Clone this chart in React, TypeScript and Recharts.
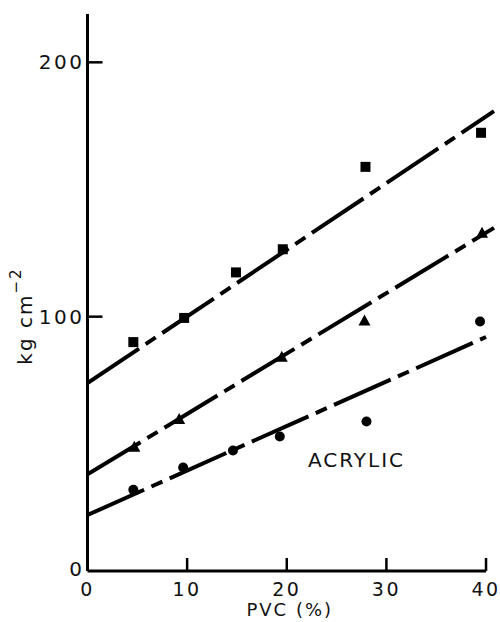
import React from 'react';
import { ComposedChart, XAxis, YAxis, Scatter, Line, ReferenceLine, ReferenceDot } from 'recharts';

// Data
const squarePvc = [4.6, 9.7, 14.9, 19.6, 27.9, 39.5];
const squareVal = [90, 99.5, 117.4, 126.5, 158.9, 172.3];
const trianglePvc = [4.7, 9.2, 19.5, 27.8, 39.6];
const triangleVal = [48.9, 59.8, 84.2, 98.5, 133];
const circlePvc = [4.6, 9.6, 14.6, 19.3, 28, 39.4];
const circleVal = [31.9, 40.7, 47.4, 52.9, 58.8, 98.1];

const squareFitX = [0, 40.8];
const squareFitY = [73.9, 180.8];
const triangleFitX = [0, 40.8];
const triangleFitY = [38, 134.9];
const circleFitX = [0, 40];
const circleFitY = [22, 92];

const xTicks = [0, 10, 20, 30, 40];
const yTicks = [0, 100, 200];

const zip = (xs: number[], ys: number[]) => xs.map((x, i) => ({ x, y: ys[i] }));
const squares = zip(squarePvc, squareVal);
const triangles = zip(trianglePvc, triangleVal);
const circles = zip(circlePvc, circleVal);
const squareFit = zip(squareFitX, squareFitY);
const triangleFit = zip(triangleFitX, triangleFitY);
const circleFit = zip(circleFitX, circleFitY);

const FONT = '"DejaVu Sans", sans-serif';
const DASH = '62 8 12 8';

const XTick = (props: any) => {
  const { x, y, payload } = props;
  const v = payload.value;
  return (
    <g>
      {v !== 0 && <line x1={x} y1={y} x2={x} y2={y - 13} stroke="#000" strokeWidth={2.5} />}
      <text x={x} y={y + 18} textAnchor="middle" dominantBaseline="central" fontFamily={FONT} fontSize={19} letterSpacing={2.5} fill="#111">
        {v}
      </text>
    </g>
  );
};

const YTick = (props: any) => {
  const { x, y, payload } = props;
  const v = payload.value;
  return (
    <g>
      {v !== 0 && <line x1={x} y1={y} x2={x + 15} y2={y} stroke="#000" strokeWidth={2.5} />}
      <text x={x - 3} y={v === 0 ? y - 2 : y} textAnchor="end" dominantBaseline="central" fontFamily={FONT} fontSize={20} letterSpacing={2.5} fill="#111">
        {v}
      </text>
    </g>
  );
};

const Square = (p: any) => <rect x={p.cx - 5} y={p.cy - 5} width={10} height={10} fill="#000" />;
const Triangle = (p: any) => (
  <polygon points={`${p.cx},${p.cy - 6} ${p.cx - 6},${p.cy + 5} ${p.cx + 6},${p.cy + 5}`} fill="#000" />
);
const Dot = (p: any) => <circle cx={p.cx} cy={p.cy} r={5} fill="#000" />;

const YLabel = (props: any) => {
  const vb = props.viewBox || { x: 0, y: 0, width: 0, height: 0 };
  const cx = vb.x + 25;
  const cy = 316;
  return (
    <text x={cx} y={cy} transform={`rotate(-90, ${cx}, ${cy})`} textAnchor="middle" dominantBaseline="central" fontFamily={FONT} fontSize={20} letterSpacing={2} fill="#111">
      kg cm
      <tspan dy={-9} fontSize={15}>−2</tspan>
    </text>
  );
};

const XLabel = (props: any) => {
  const vb = props.viewBox || { x: 0, y: 0, width: 0, height: 0 };
  return (
    <text x={vb.x + vb.width / 2 - 2} y={vb.y + 45} textAnchor="middle" fontFamily={FONT} fontSize={18} letterSpacing={2} fill="#111">
      PVC (%)
    </text>
  );
};

const AcrylicLabel = (props: any) => {
  const vb = props.viewBox || { x: 0, y: 0 };
  return (
    <text x={vb.x} y={vb.y} textAnchor="middle" dominantBaseline="central" fontFamily={FONT} fontSize={20} letterSpacing={2} fill="#111">
      ACRYLIC
    </text>
  );
};

export default function App() {
  return (
    <div style={{ position: 'absolute', left: 0, top: 0, background: '#fff' }}>
      <ComposedChart width={500} height={622} margin={{ top: 14, right: 4, bottom: 0, left: 0 }}>
        <XAxis
          type="number"
          dataKey="x"
          domain={[0, 41]}
          ticks={xTicks}
          axisLine={false}
          tickLine={false}
          tickSize={0}
          tickMargin={0}
          height={51}
          tick={<XTick />}
          label={<XLabel />}
          allowDataOverflow
        />
        <YAxis
          type="number"
          dataKey="y"
          domain={[0, 219]}
          ticks={yTicks}
          axisLine={{ stroke: '#000', strokeWidth: 3 }}
          tickLine={false}
          tickSize={0}
          tickMargin={0}
          width={87.5}
          tick={<YTick />}
          label={<YLabel />}
          allowDataOverflow
        />
        <ReferenceLine segment={[{ x: 0, y: 0 }, { x: 40, y: 0 }]} stroke="#000" strokeWidth={3} />
        <Line data={squareFit} dataKey="y" type="linear" stroke="#000" strokeWidth={4} strokeDasharray={DASH} dot={false} activeDot={false} isAnimationActive={false} />
        <Line data={triangleFit} dataKey="y" type="linear" stroke="#000" strokeWidth={4} strokeDasharray={DASH} dot={false} activeDot={false} isAnimationActive={false} />
        <Line data={circleFit} dataKey="y" type="linear" stroke="#000" strokeWidth={4} strokeDasharray={DASH} dot={false} activeDot={false} isAnimationActive={false} />
        <Scatter data={squares} dataKey="y" shape={<Square />} isAnimationActive={false} />
        <Scatter data={triangles} dataKey="y" shape={<Triangle />} isAnimationActive={false} />
        <Scatter data={circles} dataKey="y" shape={<Dot />} isAnimationActive={false} />
        <ReferenceDot x={27} y={43.6} r={0} stroke="none" fill="none" label={<AcrylicLabel />} />
      </ComposedChart>
    </div>
  );
}
